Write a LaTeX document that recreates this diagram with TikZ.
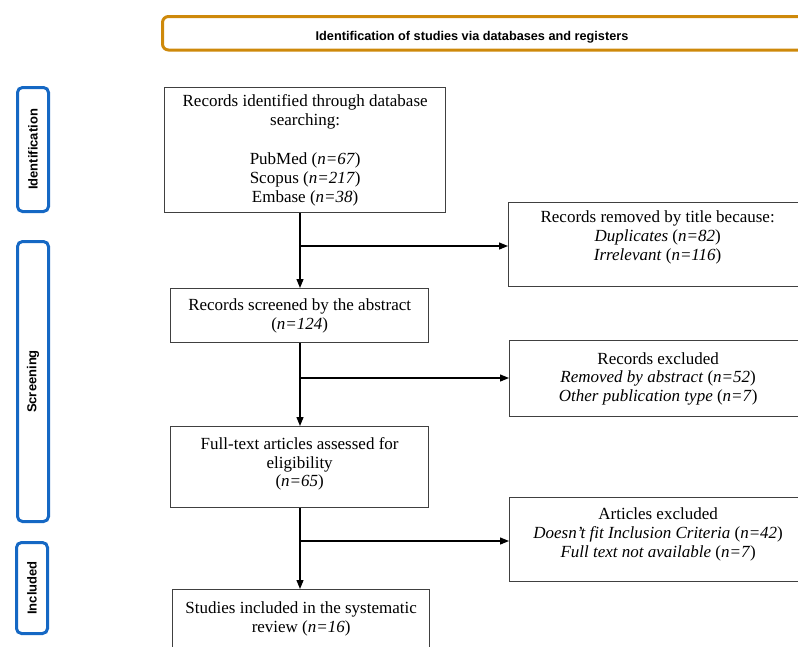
\documentclass[tikz,border=0pt]{standalone}
\usepackage{fontspec}
\setmainfont{Liberation Serif}
\setsansfont{Liberation Sans}
\usetikzlibrary{arrows.meta,positioning}
\definecolor{phaseblue}{RGB}{21,104,196}
\definecolor{headgold}{RGB}{206,137,10}
\tikzset{
	box/.style={draw=black!75,line width=1.3pt,align=center,inner sep=0pt,anchor=north west,font=\fontsize{17}{18.7}\selectfont},
	phase/.style={draw=phaseblue,line width=3pt,rounded corners=5pt,rotate=90,minimum height=31pt,inner sep=0pt,font=\sffamily\bfseries\fontsize{13}{15}\selectfont},
	arr/.style={line width=1.2pt,-{Triangle[length=9pt,width=7pt]}},
}
\begin{document}
\begin{tikzpicture}[x=1pt,y=-1pt]
	\clip (0,0) rectangle (798,646);
	\draw[headgold,line width=3pt,rounded corners=6pt] (162.5,16.5) rectangle (830,50);
	\node[anchor=base,font=\sffamily\bfseries\fontsize{12.7}{14}\selectfont] (head) at (472,40.5) {Identification of studies via databases and registers};
	\node[phase,minimum width=124pt] (idf) at (33,149.5) {Identification};
	\node[phase,minimum width=280pt] (scr) at (33,381.5) {Screening};
	\node[phase,minimum width=91pt] (inc) at (32,588) {Included};
	\node[box,minimum width=281pt,minimum height=125pt] (b1) at (164,87) {Records identified through database\\searching:\\[21pt]PubMed (\textit{n=67})\\Scopus (\textit{n=217})\\Embase (\textit{n=38})};
	\node[box,minimum width=258pt,minimum height=54pt] (b2) at (170,288) {Records screened by the abstract\\(\textit{n=124})};
	\node[box,minimum width=258pt,minimum height=81pt,text depth=10pt] (b3) at (170,426) {Full-text articles assessed for\\eligibility\\(\textit{n=65})};
	\node[box,minimum width=257pt,minimum height=58pt] (b4) at (172,589) {Studies included in the systematic\\review (\textit{n=16})};
	\node[box,minimum width=298pt,minimum height=84pt,text depth=18pt] (r1) at (508,202) {Records removed by title because:\\\textit{Duplicates} (\textit{n=82})\\\textit{Irrelevant} (\textit{n=116})};
	\node[box,minimum width=297pt,minimum height=76pt] (r2) at (509,340) {Records excluded\\\textit{Removed by abstract} (\textit{n=52})\\\textit{Other publication type} (\textit{n=7})};
	\node[box,minimum width=297pt,minimum height=84pt,text depth=14pt] (r3) at (509,497) {Articles excluded\\\textit{Doesn't fit Inclusion Criteria} (\textit{n=42})\\\textit{Full text not available} (\textit{n=7})};
	\foreach \a/\b/\k/\r/\y in {b1/b2/k1/r1/246,b2/b3/k2/r2/378,b3/b4/k3/r3/541}{
		\coordinate (\k) at (300,\y);
		\draw[arr] (\k |- \a.south) -- (\k |- \b.north);
		\draw[arr] (\k) -- (\k -| \r.west);
	}
\end{tikzpicture}
\end{document}
